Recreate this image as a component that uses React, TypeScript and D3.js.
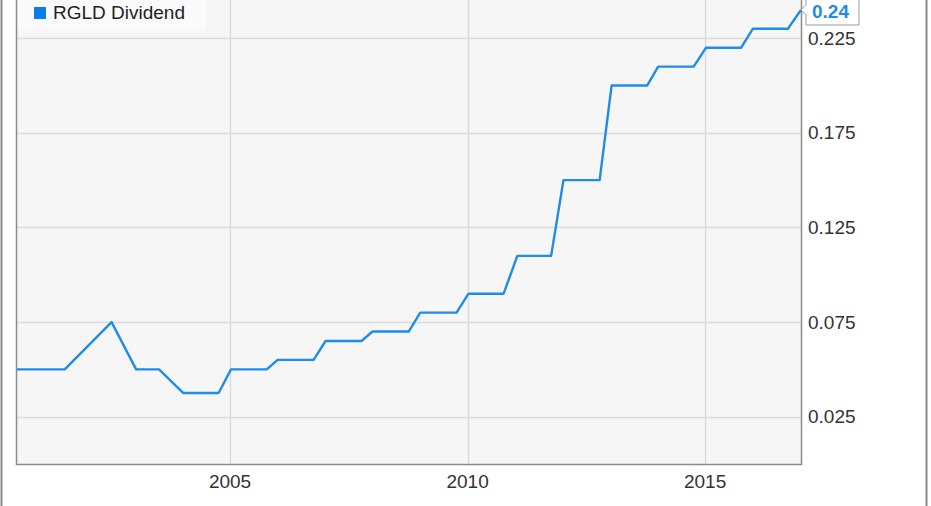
import * as d3 from 'd3'

const W = 931
const H = 506
const plot = { left: 17, right: 801, top: 0, bottom: 464 }

const seriesName = 'RGLD Dividend'
const dates = [
  '2000-07-08', '2001-07-10', '2002-07-05', '2003-01-10', '2003-07-05',
  '2004-01-08', '2004-10-05', '2005-01-08', '2005-10-10', '2006-01-02',
  '2006-10-05', '2007-01-05', '2007-10-08', '2008-01-02', '2008-10-05',
  '2009-01-02', '2009-10-08', '2010-01-08', '2010-10-05', '2011-01-18',
  '2011-10-05', '2012-01-08', '2012-10-12', '2013-01-12', '2013-10-12',
  '2014-01-05', '2014-10-05', '2015-01-08', '2015-10-05', '2016-01-02',
  '2016-09-28', '2017-01-07',
]
const dividends = [
  0.05, 0.05, 0.075, 0.05, 0.05,
  0.0375, 0.0375, 0.05, 0.05, 0.055,
  0.055, 0.065, 0.065, 0.07, 0.07,
  0.08, 0.08, 0.09, 0.09, 0.11,
  0.11, 0.15, 0.15, 0.2, 0.2,
  0.21, 0.21, 0.22, 0.22, 0.23,
  0.23, 0.24,
]
const yTicks = [0.025, 0.075, 0.125, 0.175, 0.225]
const xTicks = [2005, 2010, 2015]

const lineColor = '#1e8ceb'
const font = '"Liberation Sans", Arial, sans-serif'

export default function App() {
  const parse = d3.timeParse('%Y-%m-%d')
  const points = dates.map((d, i) => ({ date: parse(d) as Date, value: dividends[i] }))

  const x = d3
    .scaleTime()
    .domain([new Date(2000, 6, 8), new Date(2017, 0, 7)])
    .range([plot.left, plot.right])
  const y = d3.scaleLinear().domain([0, 0.2452]).range([plot.bottom, plot.top])

  const line = d3
    .line<{ date: Date; value: number }>()
    .x((d) => x(d.date))
    .y((d) => y(d.value))

  const last = points[points.length - 1]
  const lx = x(last.date)
  const ly = y(last.value)

  return (
    <svg
      width={W}
      height={H}
      style={{ position: 'absolute', left: 0, top: 0, background: '#fff' }}
    >
      {/* outer frame */}
      <line x1={1.5} x2={1.5} y1={0} y2={H} stroke="#8c8c8c" strokeWidth={2} />
      <line x1={926.5} x2={926.5} y1={0} y2={H} stroke="#8c8c8c" strokeWidth={2} />

      <rect
        x={plot.left}
        y={plot.top}
        width={plot.right - plot.left}
        height={plot.bottom - plot.top + 1}
        fill="#f6f6f6"
      />

      {yTicks.map((t) => (
        <line
          key={'gy' + t}
          x1={plot.left}
          x2={plot.right}
          y1={Math.round(y(t)) + 0.5}
          y2={Math.round(y(t)) + 0.5}
          stroke="#dcdcdc"
          strokeWidth={1.5}
        />
      ))}
      {xTicks.map((t) => {
        const px = Math.round(x(new Date(t, 0, 1))) + 0.5
        return (
          <line
            key={'gx' + t}
            x1={px}
            x2={px}
            y1={plot.top}
            y2={plot.bottom}
            stroke="#dcdcdc"
            strokeWidth={1.5}
          />
        )
      })}

      {/* plot border */}
      <path
        d={`M${plot.left - 0.5},${plot.top}V${plot.bottom + 0.5}H${plot.right + 0.5}V${plot.top}`}
        fill="none"
        stroke="#8c8c8c"
        strokeWidth={1.5}
      />

      <path d={line(points) ?? ''} fill="none" stroke={lineColor} strokeWidth={2.4} strokeLinejoin="round" />

      {/* legend */}
      <rect x={plot.left + 1} y={0} width={188} height={30} fill="#fafafa" />
      <rect x={34} y={7} width={12} height={12} fill="#0a7fe6" />
      <text x={53} y={19} fontFamily={font} fontSize={19} fill="#222">
        {seriesName}
      </text>

      {yTicks.map((t) => (
        <text
          key={'ty' + t}
          x={808}
          y={y(t)}
          dy="0.35em"
          fontFamily={font}
          fontSize={19}
          fill="#333"
        >
          {t.toFixed(3)}
        </text>
      ))}
      {xTicks.map((t) => (
        <text
          key={'tx' + t}
          x={x(new Date(t, 0, 1))}
          y={488}
          textAnchor="middle"
          fontFamily={font}
          fontSize={19}
          fill="#333"
        >
          {t}
        </text>
      ))}

      {/* last value flag */}
      <path
        d={`M${lx},${ly}L${lx + 5},${ly - 5}V${-2}H${lx + 58}V${25}H${lx + 5}V${ly + 5}Z`}
        fill="#fff"
        stroke="#999"
        strokeWidth={1}
      />
      <text
        x={lx + 11}
        y={18}
        fontFamily={font}
        fontSize={19}
        fontWeight="bold"
        fill={lineColor}
      >
        {last.value.toFixed(2)}
      </text>
    </svg>
  )
}
